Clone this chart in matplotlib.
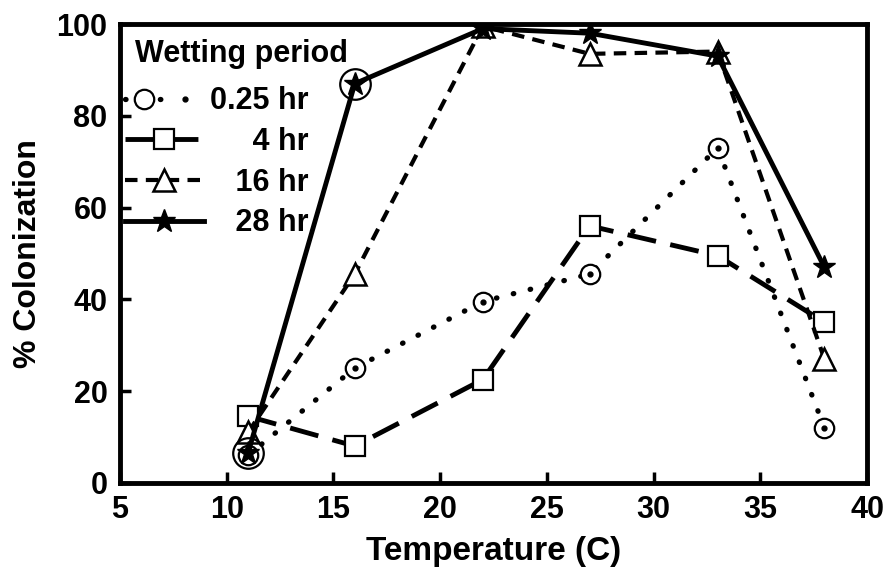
import matplotlib
matplotlib.use("Agg")
import matplotlib.pyplot as plt
from matplotlib.legend_handler import HandlerTuple

temp = [11, 16, 22, 27, 33, 38]
col_025 = [6, 25, 39.5, 45.5, 73, 12]
col_4 = [14.5, 8, 22.5, 56, 49.5, 35]
col_16 = [11, 45.5, 99.5, 93.5, 94, 27]
col_28 = [6.5, 87, 99, 98, 93, 47]
ringed = [0, 1]  # 28 hr points drawn with a large ring

labels = ["0.25 hr", "     4 hr", "   16 hr", "   28 hr"]

plt.rcParams['font.family'] = ['Liberation Sans', 'DejaVu Sans']
plt.rcParams['font.weight'] = 'bold'
plt.rcParams['axes.labelweight'] = 'bold'
plt.rcParams['font.size'] = 22

fig = plt.figure(figsize=(8.87, 5.72), dpi=100)
ax = fig.add_axes([0.1353, 0.156, 0.8422, 0.802])

l1, = ax.plot(temp, col_025, c='k', lw=3.8, ls=(0, (0.1, 3.2)), dash_capstyle='round',
              marker='o', ms=14, mfc='white', mec='k', mew=1.6)
d1, = ax.plot(temp, col_025, ls='none', marker='o', ms=3.5, c='k')
l2, = ax.plot(temp, col_4, c='k', lw=3.5, ls=(0, (6, 3)),
              marker='s', ms=15, mfc='white', mec='k', mew=1.6)
l3, = ax.plot(temp, col_16, c='k', lw=3, ls=(0, (3, 2)),
              marker='^', ms=16, mfc='white', mec='k', mew=1.8)
l4, = ax.plot(temp, col_28, c='k', lw=3.5, ls='-',
              marker='*', ms=17, mfc='k', mec='k')
ax.plot([temp[i] for i in ringed], [col_28[i] for i in ringed], ls='none',
        marker='o', ms=22, mfc='none', mec='k', mew=1.6)

ax.set_xlim(5, 40)
ax.set_ylim(0, 100)
ax.set_xticks(range(5, 41, 5))
ax.set_yticks(range(0, 101, 20))
ax.tick_params(direction='in', length=8, width=2.5, pad=9)
for s in ax.spines.values():
    s.set_linewidth(3.5)

ax.set_xlabel("Temperature (C)", fontsize=24, labelpad=8)
ax.set_ylabel("% Colonization", fontsize=23, labelpad=10)

ax.text(0.02, 0.917, "Wetting period", transform=ax.transAxes,
        va='baseline', ha='left', fontsize=22)
leg = ax.legend([(l1, d1), l2, l3, l4], labels, loc='upper left',
                bbox_to_anchor=(0, 0.874),
                handler_map={tuple: HandlerTuple(ndivide=None)},
                frameon=False, handlelength=2.6, handletextpad=0.2,
                borderaxespad=0.05, borderpad=0.1, labelspacing=0.35, fontsize=22)

fig.savefig("out.png", dpi=100)
